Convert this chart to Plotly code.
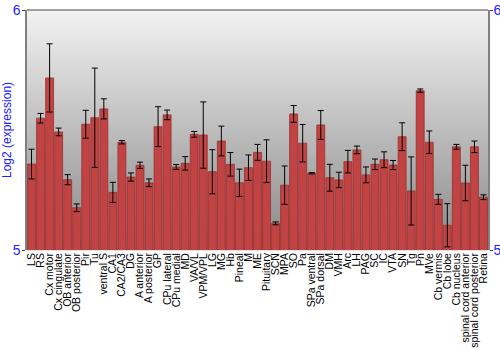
import plotly.graph_objects as go

regions = ["LS", "RS", "Cx motor", "Cx cingulate", "OB anterior", "OB posterior", "Pir", "Tu",
           "ventral S", "CA1", "CA2/CA3", "DG", "A anterior", "A posterior", "GP", "CPu lateral",
           "CPu medial", "MD", "VA/VL", "VPM/VPL", "LG", "MG", "Hb", "Pineal", "M", "ME",
           "Pituitary", "SCN", "MPA", "SO", "Pa", "SPa ventral", "SPa dorsal", "DM", "VMH", "Arc",
           "LH", "PAG", "SC", "IC", "VTA", "SN", "Tg", "Pn", "MVe", "Cb vermis", "Cb lobe",
           "Cb nucleus", "spinal cord anterior", "spinal cord posterior", "Retina"]

expression = [5.358, 5.549, 5.717, 5.492, 5.293, 5.176, 5.524, 5.551,
              5.588, 5.240, 5.449, 5.304, 5.353, 5.280, 5.514, 5.563,
              5.346, 5.361, 5.482, 5.479, 5.326, 5.454, 5.357, 5.280, 5.343, 5.407,
              5.370, 5.111, 5.270, 5.567, 5.445, 5.320, 5.521, 5.301, 5.292, 5.368,
              5.417, 5.313, 5.357, 5.376, 5.354, 5.472, 5.246, 5.664, 5.449, 5.211, 5.103,
              5.430, 5.279, 5.430, 5.220]

error = [0.062, 0.020, 0.142, 0.016, 0.021, 0.016, 0.058, 0.207,
         0.042, 0.042, 0.007, 0.017, 0.013, 0.016, 0.083, 0.020,
         0.010, 0.028, 0.012, 0.138, 0.092, 0.062, 0.049, 0.057, 0.053, 0.033,
         0.089, 0.006, 0.080, 0.035, 0.078, 0.003, 0.060, 0.056, 0.032, 0.047,
         0.016, 0.033, 0.022, 0.033, 0.019, 0.058, 0.142, 0.007, 0.047, 0.021, 0.090,
         0.010, 0.074, 0.024, 0.010]

y_range = [5, 6]
y_ticks = [5, 6]

fig = go.Figure()
fig.add_trace(go.Bar(
    x=regions, y=expression, base=0,
    marker=dict(color="#c14343", line=dict(color="#9a2f2f", width=0.8)),
    error_y=dict(type="data", array=error, visible=True, color="black", thickness=1, width=3),
    width=0.88,
    hoverinfo="x+y",
))
# invisible trace to hold the right axis
fig.add_trace(go.Scatter(x=[regions[0]], y=[y_range[0]], yaxis="y2", mode="markers",
                         marker=dict(opacity=0), showlegend=False, hoverinfo="skip"))

# vertical gray gradient background
shapes = []
n = 120
top = (242, 242, 242)
bot = (136, 136, 136)
for i in range(n):
    t = (i + 0.5) / n
    c = tuple(int(round(top[k] + (bot[k] - top[k]) * t)) for k in range(3))
    shapes.append(dict(type="rect", xref="x domain", yref="y domain",
                       x0=0, x1=1, y0=1 - (i + 1) / n - 0.001, y1=1 - i / n,
                       fillcolor="rgb(%d,%d,%d)" % c, line=dict(width=0), layer="below"))
shapes.append(dict(type="line", xref="x domain", yref="y domain", x0=0, x1=1, y0=1, y1=1,
                   line=dict(color="#808080", width=1.5)))

axis_font = dict(size=14, color="#2020ff")
fig.update_layout(
    width=500, height=350,
    margin=dict(l=27, r=12, t=10, b=100),
    paper_bgcolor="white", plot_bgcolor="rgba(0,0,0,0)",
    showlegend=False,
    font=dict(family="Liberation Sans, Arial, sans-serif"),
    shapes=shapes,
    xaxis=dict(tickangle=-90, tickfont=dict(size=10.5, color="black"), showgrid=False,
               tickmode="array", tickvals=regions, ticktext=regions,
               ticks="", showline=False, range=[-0.5, len(regions) - 0.5], automargin=False),
    yaxis=dict(range=y_range, tickvals=y_ticks, ticktext=[str(v) for v in y_ticks],
               tickfont=axis_font, showgrid=False, zeroline=False,
               showline=True, linecolor="#808080", linewidth=1.5, automargin=False,
               ticks="outside", ticklen=3, tickcolor="#404040", ticklabelstandoff=-1),
    yaxis2=dict(range=y_range, tickvals=y_ticks, ticktext=[str(v) for v in y_ticks],
                overlaying="y", side="right", automargin=False,
                tickfont=axis_font, showgrid=False, zeroline=False,
                showline=True, linecolor="#808080", linewidth=1.5,
                ticks="outside", ticklen=3, tickcolor="#404040", ticklabelstandoff=-2),
    annotations=[dict(text="Log2 (expression)", textangle=-90, xref="paper", yref="paper",
                      x=-20 / 461, y=0.5, xanchor="center", yanchor="middle", showarrow=False,
                      font=dict(size=12, color="#2020ff"))],
)

fig.write_html("out.html")
